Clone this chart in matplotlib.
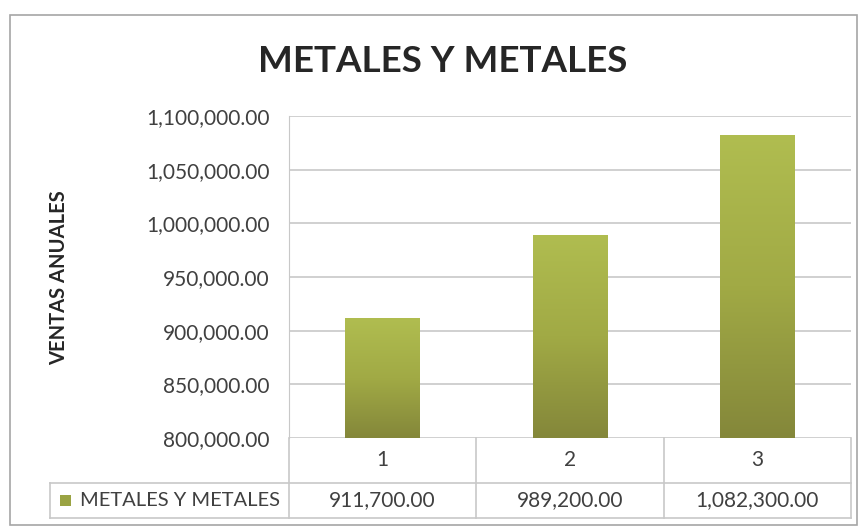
import matplotlib
matplotlib.use("Agg")
import matplotlib.pyplot as plt
import numpy as np
from matplotlib.colors import LinearSegmentedColormap
from matplotlib.patches import Rectangle
from matplotlib.lines import Line2D

plt.rcParams['font.family'] = ['Lato', 'DejaVu Sans']

categories = ["1", "2", "3"]
ventas = [911700.00, 989200.00, 1082300.00]
series_name = "METALES Y METALES"
title = "METALES Y METALES"
ylabel = "VENTAS ANUALES"
y_min, y_max, y_step = 800000, 1100000, 50000

W, H = 867, 529
fig = plt.figure(figsize=(W / 100, H / 100), dpi=100)
fig.patch.set_facecolor("white")

def fx(px):
    return px / W

def fy(py):
    return 1 - py / H

# outer chart border
fig.add_artist(Rectangle((fx(10), fy(525)), fx(857) - fx(10), fy(15) - fy(525),
                         transform=fig.transFigure, fill=False,
                         edgecolor="#a6a6a6", linewidth=1.2))

ax_l, ax_r, ax_t, ax_b = 289, 851, 116, 438
ax = fig.add_axes([fx(ax_l), fy(ax_b), fx(ax_r) - fx(ax_l), fy(ax_t) - fy(ax_b)])
ax.set_facecolor("white")

x = np.arange(len(categories))
ticks = np.arange(y_min, y_max + 1, y_step)
ax.set_yticks(ticks)
ax.set_yticklabels([f"{t:,.2f}" for t in ticks], fontsize=15, color="#404040")
ax.set_xticks([])
ax.tick_params(axis="y", length=0, pad=14)
for s in ax.spines.values():
    s.set_visible(False)
ax.spines["left"].set_visible(True)
ax.spines["left"].set_color("#c8c8c8")
ax.grid(axis="y", color="#c8c8c8", linewidth=1.2)
ax.set_axisbelow(True)

# gradient-filled bars
cmap = LinearSegmentedColormap.from_list("olive", ["#84873a", "#a1aa45", "#b0bd50"])
grad = np.linspace(0, 1, 256).reshape(-1, 1)
bars = ax.bar(x, ventas, width=0.4, bottom=0, color="none", edgecolor="none", zorder=3)
for b in bars:
    x0, w = b.get_x(), b.get_width()
    top = b.get_height()
    im = ax.imshow(grad, cmap=cmap, origin="lower", aspect="auto",
                   extent=[x0, x0 + w, y_min, top], zorder=3)
    im.set_clip_path(b)
ax.set_xlim(-0.5, len(categories) - 0.5)
ax.set_ylim(y_min, y_max)

# title and axis label
fig.text(fx(443), fy(62), title, ha="center", va="center", fontsize=26.5,
         fontweight="bold", color="#262626")
fig.text(fx(59), fy(278), ylabel, ha="center", va="center", rotation=90,
         fontsize=14.5, fontweight="bold", color="#262626")

# data table below the plot
grid_c = "#c8c8c8"
row1_b, row2_b = 483, 518
lines = [
    ((50, ax_r), (row1_b, row1_b)),
    ((50, ax_r), (row2_b, row2_b)),
    ((50, 50), (row1_b, row2_b)),
    ((ax_r, ax_r), (ax_b, row2_b)),
    ((ax_l, ax_l), (ax_b, row2_b)),
]
cw = (ax_r - ax_l) / len(categories)
for i in range(1, len(categories)):
    xx = ax_l + cw * i
    lines.append(((xx, xx), (ax_b, row2_b)))
for (xs, ys) in lines:
    fig.add_artist(Line2D([fx(v) for v in xs], [fy(v) for v in ys],
                          transform=fig.transFigure, color=grid_c, linewidth=1.2))

for i, (c, v) in enumerate(zip(categories, ventas)):
    cx = ax_l + cw * (i + 0.5)
    fig.text(fx(cx), fy((ax_b + row1_b) / 2), c, ha="center", va="center",
             fontsize=15, color="#404040")
    fig.text(fx(cx), fy((row1_b + row2_b) / 2), f"{v:,.2f}", ha="center",
             va="center", fontsize=15, color="#404040")

# legend key inside the table
ky = (row1_b + row2_b) / 2
fig.add_artist(Rectangle((fx(60), fy(ky + 5.5)), fx(11), fy(0) - fy(11),
                         transform=fig.transFigure, facecolor="#9aa343",
                         edgecolor="none"))
fig.text(fx(80), fy(ky), series_name, ha="left", va="center", fontsize=14.5,
         color="#404040")

fig.savefig("out.png", dpi=100, facecolor="white")
